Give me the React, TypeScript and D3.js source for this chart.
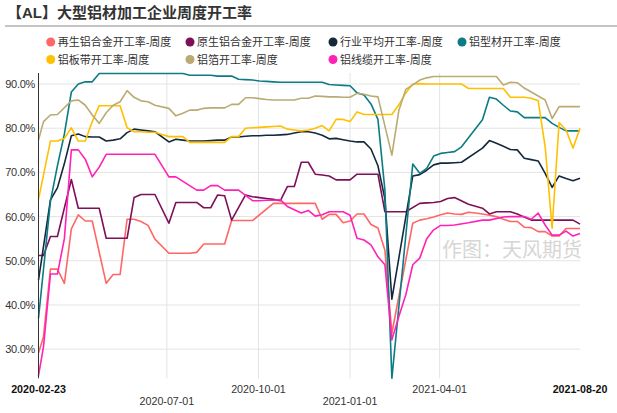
import React from "react";
import * as d3 from "d3";

const TITLE = "【AL】大型铝材加工企业周度开工率";
const WATERMARK = "作图：天风期货";

const SERIES_NAMES = [
  "再生铝合金开工率-周度",
  "原生铝合金开工率-周度",
  "行业平均开工率-周度",
  "铝型材开工率-周度",
  "铝板带开工率-周度",
  "铝箔开工率-周度",
  "铝线缆开工率-周度",
];
const SERIES_COLORS = ["#FF6666", "#7D1158", "#14293C", "#0C7B85", "#FFC000", "#BAAA74", "#FF22B6"];

// dates: first observation, then weekly (Fridays) to 2021-08-20
const FIRST_DATE = "2020-02-23";
const FIRST_WEEKLY = "2020-02-28";
const WEEK_COUNT = 78;

const Y_TICKS = [30, 40, 50, 60, 70, 80, 90];
const Y_DOMAIN = [23.4, 92.5];
const X_TICKS = ["2020-02-23", "2020-07-01", "2020-10-01", "2021-01-01", "2021-04-01", "2021-08-20"];

type V = number | null;
const recycled: V[] = [
  29.1, 32.8, 48.1, 48.1, 44.9, 57.2, 60.4, 59.0, 59.0, null,
  44.9, 46.9, 46.9, 59.4, 59.4, 58.9, 58.0, 54.9, null, 51.7,
  51.7, 51.7, 51.7, 51.9, 53.8, 53.8, 53.8, 53.8, 59.1, 59.1,
  59.1, 59.1, null, null, 63.0, 63.0, 63.0, 63.0, 63.0, 63.0,
  63.0, 59.4, 60.5, 60.5, 58.6, 59.0, 60.6, 60.6, 58.2, 57.4,
  52.4, 33.6, null, null, 58.5, 59.2, 59.5, 59.9, 60.4, 60.8,
  60.6, 60.5, 61.0, 60.8, 60.6, 60.3, 60.0, 59.4, 58.9, 58.9,
  57.6, 57.5, 56.6, 56.6, 55.6, 55.6, 57.3, 57.3, 57.3,
];
const primary: V[] = [
  51.2, 51.2, 55.5, 55.5, null, 68.4, 61.9, 61.9, 61.9, 61.9,
  55.1, 55.1, 55.1, 55.1, 64.3, 65.0, 65.0, 65.0, null, 58.5,
  63.2, 63.2, 63.2, 63.2, 62.0, 62.0, 64.9, 64.7, 59.2, null,
  64.9, 64.5, 64.3, 64.1, 63.9, 63.6, 66.8, 66.8, 72.3, 72.3,
  69.6, 69.4, 69.2, 68.3, 68.3, 68.3, 69.6, 69.6, 69.6, 69.6,
  61.1, 61.1, 61.1, 61.1, null, 63.0, 63.1, 63.2, 63.4, 64.1,
  64.3, null, 62.8, null, 61.9, 60.6, 61.1, 61.1, 61.1, 60.6,
  null, 59.2, 59.2, 59.2, 59.2, 59.2, 59.2, 59.2, 58.3,
];
const average: V[] = [
  45.6, null, 63.8, 66.5, 72.0, 78.3, 78.7, 78.1, 78.0, 78.0,
  77.1, 77.3, 77.6, 79.0, 79.8, 79.6, 79.4, 79.2, null, 76.9,
  77.5, 77.3, 77.1, 77.1, 77.1, 77.2, 77.3, 77.3, 78.0, 78.0,
  78.2, 78.3, 78.3, 78.4, 78.4, 78.5, 78.6, 78.9, 79.2, 79.2,
  78.9, 78.4, 77.6, 77.7, 77.4, 77.1, 76.9, 76.9, 75.3, 71.5,
  64.0, 41.3, null, null, 69.2, 69.5, 70.5, 71.7, 72.1, 72.1,
  72.2, 72.3, null, null, 75.5, 77.2, 76.6, 75.9, 75.2, 75.1,
  73.2, 72.9, 72.6, 69.8, 66.6, 69.2, 68.6, 68.1, 68.7,
];
const profile: V[] = [
  37.0, null, 63.5, 71.5, 78.7, 88.2, 90.0, 90.5, 90.5, 92.4,
  92.4, 92.4, 92.4, 92.4, 92.4, 92.4, 92.4, 92.4, 92.4, 92.4,
  92.4, 92.4, 92.0, 92.0, 92.0, 92.0, 91.8, 91.8, 91.8, 91.1,
  91.0, 90.9, 90.7, 90.6, 90.5, 90.4, 90.4, 90.4, 90.4, 90.4,
  90.4, 90.4, 89.9, 89.8, 89.7, 89.6, 88.0, 87.5, 85.5, 82.0,
  66.0, 23.4, null, null, 71.9, 69.8, 70.9, 73.7, 74.3, 74.5,
  74.7, 75.8, null, null, 81.9, 87.0, 86.6, 85.2, 83.9, 83.7,
  82.4, 82.4, 82.4, 82.4, 81.1, 80.2, 79.4, 79.4, 79.4,
];
const sheet: V[] = [
  63.9, null, 77.1, 77.1, 77.7, 80.1, 77.1, 77.1, 81.5, 85.1,
  85.1, 85.1, 85.1, 80.1, 79.2, 79.2, 79.1, 79.1, 78.6, 78.1,
  78.1, 78.1, 76.8, 76.8, 76.8, 76.8, 76.8, 76.8, 78.1, 78.1,
  80.0, 80.1, 80.2, 80.3, 80.4, 80.5, 79.8, 79.6, 79.4, 79.6,
  80.0, 80.6, 79.4, 82.0, 82.0, 81.5, 83.7, 83.1, 83.1, 83.1,
  83.1, 83.1, 85.3, 88.0, 90.0, 90.1, 90.0, 90.0, 90.0, 90.0,
  90.0, 90.0, 89.0, 89.0, 89.0, 89.0, 89.0, 89.0, 87.0, 87.0,
  87.0, 86.8, 86.2, 75.8, 57.4, 81.3, 79.6, 75.5, 80.0,
];
const foil: V[] = [
  77.3, 81.5, 83.0, 83.1, null, 86.2, 86.4, 85.2, 83.0, 81.1,
  83.5, 85.2, 86.0, 88.5, 87.0, 86.2, 86.0, 85.2, null, 84.5,
  82.8, 83.4, 84.1, 84.1, 84.5, 84.6, 84.6, 84.6, 85.4, 85.4,
  86.9, 86.9, 86.7, 86.5, 86.4, 86.4, 86.4, 86.4, 86.8, 86.8,
  87.3, 87.2, 87.1, 87.1, 87.0, 87.0, 87.9, 87.7, 87.3, 87.1,
  null, 73.9, 84.0, 88.8, 89.8, 90.9, 91.4, 91.7, 91.7, 91.7,
  91.7, 91.7, 91.7, 91.7, 91.7, 91.7, 91.7, 89.8, 90.4, 90.3,
  89.1, 88.2, 87.3, 86.4, 82.2, 84.9, 84.9, 84.9, 84.9,
];
const cable: V[] = [
  24.0, 30.5, 47.0, 47.0, 55.0, 75.1, 75.1, 73.0, 69.0, 71.2,
  74.1, 74.1, 74.1, 74.1, 74.1, 74.1, 74.1, 74.1, null, 69.0,
  69.0, null, null, 66.0, 66.0, 67.0, 67.0, 66.0, 66.0, 66.0,
  null, 63.6, 63.6, 63.7, 63.7, 63.8, 62.3, null, 60.8, 61.4,
  60.1, 60.4, 61.1, 61.1, 61.1, 60.3, 55.1, 54.7, 53.6, 50.9,
  49.1, 32.1, 37.4, 42.3, 49.1, 50.6, 55.0, 57.0, 58.0, 58.0,
  58.1, null, 58.6, null, 59.2, 59.2, null, 59.9, 60.0, 60.0,
  60.0, 59.4, 60.8, 58.1, 55.8, 55.8, 56.7, 55.6, 56.2,
];
const SERIES = [recycled, primary, average, profile, sheet, foil, cable];

const W = 617;
const H = 413;
const PLOT = { left: 38.5, right: 580, top: 73, bottom: 378.3 };
const FONT = "'Liberation Sans', Arial, 'Noto Sans CJK SC', sans-serif";

const parse = d3.utcParse("%Y-%m-%d");
const DATES: Date[] = [parse(FIRST_DATE) as Date].concat(
  d3.range(WEEK_COUNT).map((i) => d3.utcDay.offset(parse(FIRST_WEEKLY) as Date, 7 * i))
);

export default function App() {
  const x = d3
    .scaleUtc()
    .domain([parse(X_TICKS[0]) as Date, parse(X_TICKS[X_TICKS.length - 1]) as Date])
    .range([PLOT.left, PLOT.right]);
  const y = d3.scaleLinear().domain(Y_DOMAIN).range([PLOT.bottom, PLOT.top]);

  const line = d3
    .line<[Date, number]>()
    .x((d) => x(d[0]))
    .y((d) => y(d[1]));

  const legendCols = [50.7, 190, 333, 462];
  const legendRows = [42, 59.5];

  return (
    <div style={{ position: "absolute", left: 0, top: 0, width: W, height: H, background: "#fff" }}>
      <svg width={W} height={H} style={{ display: "block", fontFamily: FONT }}>
        <rect width={W} height={H} fill="#fff" />
        <text x={7} y={18} fontSize={15} fontWeight="bold" fill="#333">
          {TITLE}
        </text>
        <line x1={5} x2={W} y1={26} y2={26} stroke="#b0b0b0" strokeWidth={1.5} />

        {SERIES_NAMES.map((name, i) => {
          const cx = legendCols[i < 4 ? i : i - 4];
          const cy = legendRows[i < 4 ? 0 : 1];
          return (
            <g key={name}>
              <circle cx={cx} cy={cy} r={4.5} fill={SERIES_COLORS[i]} />
              <text x={cx + 7} y={cy + 4} fontSize={11} fill="#333">
                {name}
              </text>
            </g>
          );
        })}

        {Y_TICKS.map((t) => (
          <g key={t}>
            <line x1={PLOT.left} x2={PLOT.right} y1={y(t)} y2={y(t)} stroke="#e3e3e3" strokeWidth={1} />
            <text x={35} y={y(t) + 4} fontSize={11} letterSpacing={-0.3} textAnchor="end" fill="#333">
              {t.toFixed(1) + "%"}
            </text>
          </g>
        ))}

        {X_TICKS.slice(1, -1).map((t) => (
          <line
            key={t}
            x1={x(parse(t) as Date)}
            x2={x(parse(t) as Date)}
            y1={PLOT.top}
            y2={PLOT.bottom}
            stroke="#e3e3e3"
            strokeWidth={1}
          />
        ))}

        <text
          x={512}
          y={257}
          fontSize={20}
          textAnchor="middle"
          fill="#d6d6d6"
          fontFamily="'Noto Sans CJK SC', sans-serif"
        >
          {WATERMARK}
        </text>

        {SERIES.map((vals, i) => {
          const pts: [Date, number][] = [];
          vals.forEach((v, k) => {
            if (v !== null) pts.push([DATES[k], v]);
          });
          return (
            <path
              key={SERIES_NAMES[i]}
              d={line(pts) || ""}
              fill="none"
              stroke={SERIES_COLORS[i]}
              strokeWidth={1.6}
              strokeLinejoin="round"
            />
          );
        })}

        <line x1={PLOT.left} x2={PLOT.left} y1={PLOT.top} y2={PLOT.bottom} stroke="#333" strokeWidth={1} />

        {X_TICKS.map((t, i) => {
          const edge = i === 0 || i === X_TICKS.length - 1;
          const row = i % 2 === 1 && !edge ? 1 : 0;
          return (
            <text
              key={t}
              x={x(parse(t) as Date)}
              y={row === 0 ? 393 : 405}
              fontSize={10.7}
              fontWeight={edge ? "bold" : "normal"}
              textAnchor="middle"
              fill={edge ? "#111" : "#333"}
            >
              {t}
            </text>
          );
        })}
      </svg>
    </div>
  );
}
